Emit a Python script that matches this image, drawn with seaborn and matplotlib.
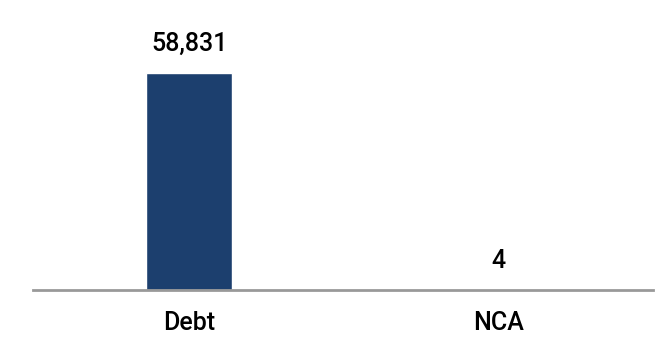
import matplotlib
matplotlib.use("Agg")
import matplotlib.pyplot as plt
import seaborn as sns
import pandas as pd

categories = ["Debt", "NCA"]
values = [58831, 4]
labels = ["58,831", "4"]
colors = ["#1C3F6E", "#A07A60"]

sns.set_theme(style="white")
plt.rcParams['font.family'] = ['Roboto', 'DejaVu Sans']

df = pd.DataFrame({"cat": categories, "val": values})

fig = plt.figure(figsize=(6.64, 3.56), dpi=100)
ax = fig.add_axes([33/664, 1-290/356, 620/664, 280/356])
sns.barplot(data=df, x="cat", y="val", hue="cat", palette=colors, width=0.278,
            legend=False, ax=ax, saturation=1)
ax.set_xlim(-0.505, 1.50)
top = 58831 * 280 / 217
ax.set_ylim(0, top)
for sp in ["top", "right", "left"]:
    ax.spines[sp].set_visible(False)
ax.spines["bottom"].set_color("#999999")
ax.spines["bottom"].set_linewidth(2)
ax.set_yticks([])
ax.set_xlabel("")
ax.set_ylabel("")
ax.tick_params(axis="x", length=0, pad=15, labelsize=18, colors="black")
for t in ax.get_xticklabels():
    t.set_fontweight("medium")
for i, (v, l) in enumerate(zip(values, labels)):
    ax.annotate(l, (i, v), xytext=(0, 12), textcoords="offset points",
                ha="center", va="bottom", fontsize=18, color="black",
                fontweight="medium")
fig.savefig("out.png", dpi=100)
